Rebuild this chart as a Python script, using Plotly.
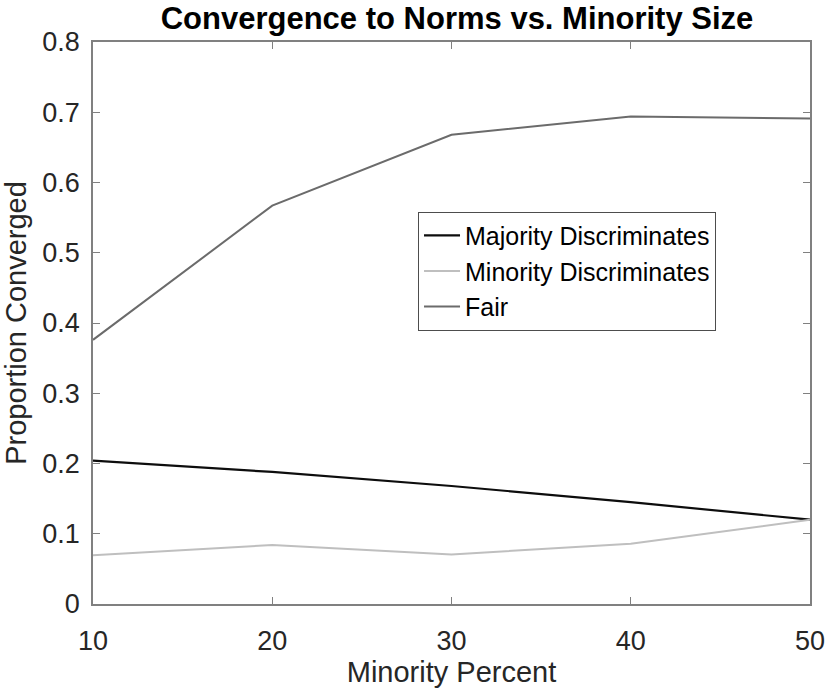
import plotly.graph_objects as go

minority_percent = [10, 20, 30, 40, 50]
majority_discriminates = [0.204, 0.188, 0.168, 0.145, 0.120]
minority_discriminates = [0.0695, 0.084, 0.0705, 0.0857, 0.120]
fair = [0.376, 0.567, 0.668, 0.694, 0.691]
x_ticks = [10, 20, 30, 40, 50]
y_ticks = [0, 0.1, 0.2, 0.3, 0.4, 0.5, 0.6, 0.7, 0.8]
y_tick_labels = ["0", "0.1", "0.2", "0.3", "0.4", "0.5", "0.6", "0.7", "0.8"]

FONT = "Liberation Sans, Arial, Helvetica, sans-serif"
TXT = "#262626"
AX = "#808080"

fig = go.Figure()
fig.add_trace(go.Scatter(x=minority_percent, y=majority_discriminates, mode="lines",
                         name="Majority Discriminates", line=dict(color="#0d0d0d", width=2.2)))
fig.add_trace(go.Scatter(x=minority_percent, y=minority_discriminates, mode="lines",
                         name="Minority Discriminates", line=dict(color="#bfbfbf", width=2)))
fig.add_trace(go.Scatter(x=minority_percent, y=fair, mode="lines",
                         name="Fair", line=dict(color="#6b6b6b", width=2)))

axis_common = dict(showgrid=False, zeroline=False, showline=True, linecolor=AX,
                   linewidth=1.5, mirror="ticks", ticks="inside", ticklen=7,
                   tickcolor=AX, tickwidth=1,
                   tickfont=dict(family=FONT, size=27, color=TXT))

fig.update_xaxes(range=[10, 50], tickvals=x_ticks,
                 title=dict(text="Minority Percent", font=dict(family=FONT, size=29, color=TXT), standoff=6),
                 ticklabelstandoff=12,
                 **axis_common)
fig.update_yaxes(range=[0, 0.8], tickvals=y_ticks, ticktext=y_tick_labels,
                 title=dict(text="Proportion Converged", font=dict(family=FONT, size=29, color=TXT), standoff=8),
                 ticklabelstandoff=6,
                 **axis_common)

fig.update_layout(
    width=837, height=694,
    margin=dict(l=93, r=16, t=42, b=89),
    paper_bgcolor="white", plot_bgcolor="white",
    title=dict(text="<b>Convergence to Norms vs. Minority Size</b>",
               font=dict(family=FONT, size=31, color="black"),
               x=(93 + 821) / 2 / 837, xanchor="center",
               y=1 - 18 / 694, yanchor="middle", yref="container"),
    legend=dict(x=0.4533, y=0.698, xanchor="left", yanchor="top",
                bgcolor="white", bordercolor="#4d4d4d", borderwidth=1,
                font=dict(family=FONT, size=25, color="black"),
                tracegroupgap=0, itemwidth=36),
    showlegend=True,
)

fig.write_html("out.html", config={"displayModeBar": False},
               post_script="document.body.style.margin='0';")
